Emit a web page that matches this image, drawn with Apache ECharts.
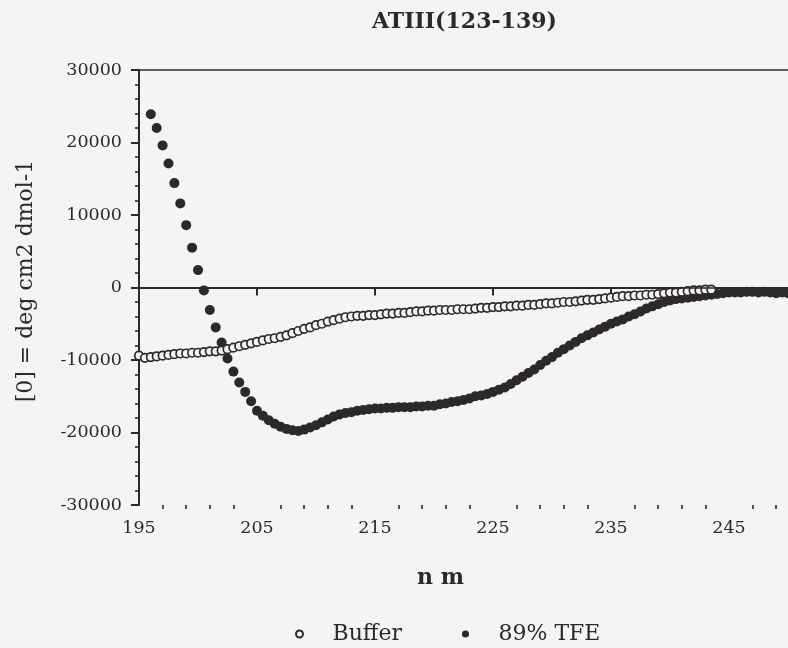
<!DOCTYPE html>
<html>
<head>
<meta charset="utf-8">
<script src="https://cdn.jsdelivr.net/npm/echarts@6/dist/echarts.min.js"></script>
<style>
html,body{margin:0;padding:0;background:#f4f4f3;}
#chart{width:788px;height:648px;}
</style>
</head>
<body>
<div id="chart"></div>
<script>
const titleText = 'ATIII(123-139)';
const yAxisTitle = '[0] = deg cm2 dmol-1';
const xAxisTitle = 'n m';
const seriesNames = ['Buffer', '89% TFE'];

const xMajorTicks = [195, 205, 215, 225, 235, 245];
const xMinorTicks = [197, 199, 201, 203, 207, 209, 211, 213, 217, 219, 221, 223, 227, 229, 231, 233, 237, 239, 241, 243, 247, 249];

const tfeNm = [196,196.5,197,197.5,198,198.5,199,199.5,200,200.5,201,201.5,202,202.5,203,203.5,204,204.5,205,205.5,206,206.5,207,207.5,208,208.5,209,209.5,210,210.5,211,211.5,212,212.5,213,213.5,214,214.5,215,215.5,216,216.5,217,217.5,218,218.5,219,219.5,220,220.5,221,221.5,222,222.5,223,223.5,224,224.5,225,225.5,226,226.5,227,227.5,228,228.5,229,229.5,230,230.5,231,231.5,232,232.5,233,233.5,234,234.5,235,235.5,236,236.5,237,237.5,238,238.5,239,239.5,240,240.5,241,241.5,242,242.5,243,243.5,244,244.5,245,245.5,246,246.5,247,247.5,248,248.5,249,249.5,250];
const tfeVal = [23900,22000,19600,17100,14400,11600,8600,5500,2400,-400,-3100,-5500,-7600,-9800,-11600,-13100,-14400,-15700,-17000,-17700,-18300,-18800,-19200,-19500,-19700,-19800,-19600,-19300,-19000,-18600,-18200,-17800,-17500,-17300,-17200,-17000,-16900,-16800,-16700,-16700,-16600,-16600,-16500,-16500,-16500,-16400,-16400,-16300,-16300,-16100,-16000,-15800,-15700,-15500,-15300,-15000,-14900,-14700,-14400,-14100,-13800,-13300,-12800,-12300,-11800,-11300,-10700,-10100,-9600,-9000,-8500,-8000,-7500,-7000,-6600,-6200,-5800,-5400,-5000,-4700,-4400,-4000,-3700,-3300,-2900,-2600,-2300,-2000,-1800,-1600,-1500,-1400,-1300,-1200,-1100,-1000,-900,-800,-700,-700,-700,-600,-600,-700,-600,-700,-800,-700,-800];

const bufNm = [195,195.5,196,196.5,197,197.5,198,198.5,199,199.5,200,200.5,201,201.5,202,202.5,203,203.5,204,204.5,205,205.5,206,206.5,207,207.5,208,208.5,209,209.5,210,210.5,211,211.5,212,212.5,213,213.5,214,214.5,215,215.5,216,216.5,217,217.5,218,218.5,219,219.5,220,220.5,221,221.5,222,222.5,223,223.5,224,224.5,225,225.5,226,226.5,227,227.5,228,228.5,229,229.5,230,230.5,231,231.5,232,232.5,233,233.5,234,234.5,235,235.5,236,236.5,237,237.5,238,238.5,239,239.5,240,240.5,241,241.5,242,242.5,243,243.5];
const bufVal = [-9400,-9700,-9600,-9500,-9400,-9300,-9200,-9100,-9100,-9000,-9000,-8900,-8800,-8800,-8700,-8500,-8300,-8100,-7900,-7700,-7500,-7300,-7100,-7000,-6800,-6600,-6300,-6000,-5700,-5500,-5200,-5000,-4700,-4500,-4300,-4100,-4000,-3900,-3900,-3800,-3800,-3700,-3600,-3600,-3500,-3500,-3400,-3300,-3300,-3200,-3200,-3100,-3100,-3100,-3000,-3000,-3000,-2900,-2800,-2800,-2700,-2700,-2600,-2600,-2500,-2500,-2400,-2400,-2300,-2200,-2200,-2100,-2000,-2000,-1900,-1800,-1700,-1700,-1600,-1500,-1400,-1300,-1200,-1200,-1100,-1100,-1000,-1000,-900,-800,-700,-700,-600,-500,-400,-400,-300,-300];

const ink = '#2d2829';
const bg = '#f4f4f3';
const serif = 'DejaVu Serif';

const chart = echarts.init(document.getElementById('chart'), null, {renderer: 'canvas'});
chart.setOption({
  backgroundColor: bg,
  animation: false,
  title: {
    text: titleText,
    left: 367, top: 6,
    textStyle: {fontFamily: serif, fontSize: 22, fontWeight: 'bold', color: ink}
  },
  graphic: [{
    type: 'text',
    x: 26, y: 281,
    rotation: Math.PI / 2,
    style: {
      text: yAxisTitle,
      fontFamily: serif, fontSize: 22, fill: ink,
      align: 'center', verticalAlign: 'middle'
    }
  }],
  legend: {
    data: [seriesNames[0], seriesNames[1]],
    left: 290, top: 618,
    itemWidth: 56, itemHeight: 7, itemGap: 60,
    textStyle: {fontFamily: serif, fontSize: 22, color: ink}
  },
  grid: {left: 139, right: 0, top: 70, bottom: 143, containLabel: false},
  xAxis: [{
    type: 'value', min: 195, max: 250,
    name: xAxisTitle, nameLocation: 'middle', nameGap: 62,
    nameTextStyle: {fontFamily: serif, fontSize: 22, fontWeight: 'bold', color: ink, padding: [0, 46, 0, 0]},
    axisLine: {show: true, lineStyle: {color: ink, width: 2}},
    axisTick: {show: true, length: 8, inside: false, customValues: xMajorTicks, lineStyle: {color: ink, width: 2}},
    axisLabel: {show: true, customValues: xMajorTicks, margin: 14, fontFamily: serif, fontSize: 17.5, color: ink},
    splitLine: {show: false}
  }, {
    type: 'value', min: 195, max: 250, position: 'bottom',
    axisLine: {show: false},
    axisTick: {show: true, length: 4, customValues: xMinorTicks, lineStyle: {color: ink, width: 1.6}},
    axisLabel: {show: false},
    splitLine: {show: false}
  }, {
    type: 'value', min: 195, max: 250, position: 'top',
    axisLine: {show: true, lineStyle: {color: ink, width: 1.6}},
    axisTick: {show: false}, axisLabel: {show: false}, splitLine: {show: false}
  }],
  yAxis: {
    type: 'value', min: -30000, max: 30000, interval: 10000,
    axisLine: {show: true, lineStyle: {color: ink, width: 2}},
    axisTick: {show: true, length: 8, lineStyle: {color: ink, width: 2}},
    minorTick: {show: true, splitNumber: 5, length: 4, lineStyle: {color: ink, width: 1.6}},
    axisLabel: {margin: 17, fontFamily: serif, fontSize: 17.5, color: ink, formatter: v => String(v)},
    splitLine: {show: false}, minorSplitLine: {show: false}
  },
  series: [{
    name: seriesNames[1], type: 'scatter', xAxisIndex: 0, z: 2,
    symbol: 'circle', symbolSize: 10,
    itemStyle: {color: ink, opacity: 1},
    data: tfeNm.map((x, i) => [x, tfeVal[i]]),
    markLine: {
      silent: true, symbol: ['none', 'none'], label: {show: false},
      lineStyle: {color: ink, width: 1.6, type: 'solid'},
      data: [{yAxis: 0}]
    }
  }, {
    name: seriesNames[0], type: 'scatter', xAxisIndex: 0, z: 3,
    symbol: 'circle', symbolSize: 8.5,
    itemStyle: {color: bg, borderColor: ink, borderWidth: 1.7, opacity: 1},
    data: bufNm.map((x, i) => [x, bufVal[i]])
  }]
});
</script>
</body>
</html>
